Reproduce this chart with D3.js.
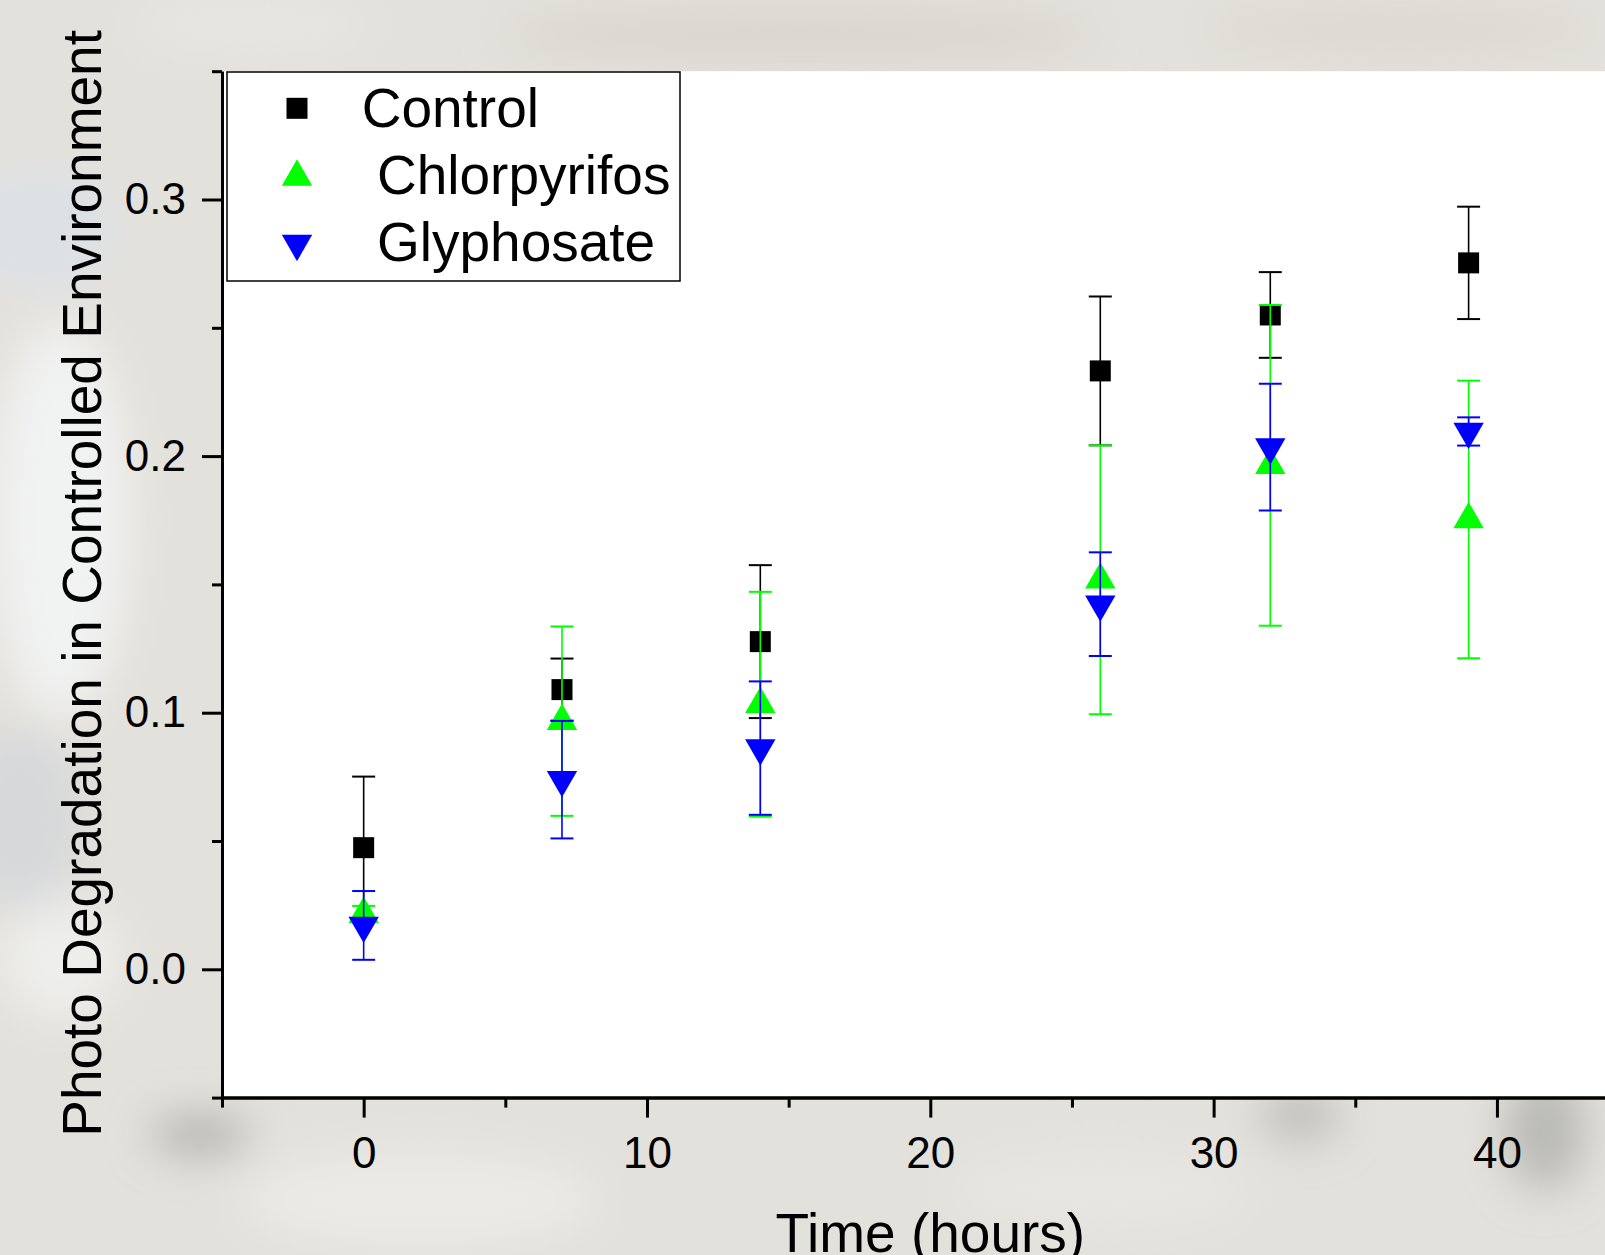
<!DOCTYPE html>
<html>
<head>
<meta charset="utf-8">
<script src="https://cdn.jsdelivr.net/npm/d3@7"></script>
<style>
  html, body { margin: 0; padding: 0; overflow: hidden; }
  svg { display: block; font-family: "Liberation Sans", Arial, sans-serif; }
</style>
</head>
<body>
<svg class="canvas"></svg>
<script>
// Chart data
const hours = [0, 7, 14, 26, 32, 39];
const control = [0.0474, 0.1090, 0.1277, 0.2332, 0.2550, 0.2753];
const controlErr = [0.0277, 0.0121, 0.0298, 0.0290, 0.0167, 0.0219];
const chlorpyrifos = [0.0215, 0.0967, 0.1033, 0.1518, 0.1964, 0.1753];
const chlorpyrifosErr = [0.0032, 0.0369, 0.0438, 0.0524, 0.0625, 0.0541];
const glyphosate = [0.0171, 0.0739, 0.0862, 0.1423, 0.2035, 0.2096];
const glyphosateErr = [0.0134, 0.0229, 0.0260, 0.0202, 0.0247, 0.0055];
const seriesNames = ["Control", " Chlorpyrifos", " Glyphosate"];
const xMajorTicks = [0, 10, 20, 30, 40];
const xMinorTicks = [-5, 5, 15, 25, 35];
const yMajorTicks = [0.0, 0.1, 0.2, 0.3];
const yMinorTicks = [-0.05, 0.05, 0.15, 0.25, 0.35];

// Page size
const wWidth = 1605;
const wHeight = 1255;

// Plot frame
const frame = {left: 222, top: 71.2, bottom: 1097.6, right: 1638.6};

const svg = d3.select(".canvas")
    .attr("width", wWidth)
    .attr("height", wHeight);

// blurry photo background
const defs = svg.append("defs");
defs.append("filter").attr("id", "blur")
    .attr("x", "-50%").attr("y", "-50%").attr("width", "200%").attr("height", "200%")
    .append("feGaussianBlur").attr("stdDeviation", 22);

svg.append("rect")
    .attr("width", wWidth).attr("height", wHeight)
    .attr("fill", "#e3e1db");

const blobs = [
    {x: 40, y: 230, rx: 80, ry: 60, c: "#dde1e6"},
    {x: 60, y: 520, rx: 70, ry: 200, c: "#f1f2f2"},
    {x: 20, y: 820, rx: 60, ry: 90, c: "#d6d8da"},
    {x: 60, y: 960, rx: 60, ry: 60, c: "#eeeeec"},
    {x: 200, y: 1135, rx: 50, ry: 18, c: "#aeada8"},
    {x: 420, y: 1200, rx: 180, ry: 50, c: "#ebeae6"},
    {x: 1300, y: 1115, rx: 40, ry: 25, c: "#bdbcb7"},
    {x: 1545, y: 1130, rx: 40, ry: 60, c: "#b9b9b5"},
    {x: 1100, y: 1190, rx: 150, ry: 40, c: "#e8e6e1"},
    {x: 800, y: 35, rx: 300, ry: 25, c: "#d8d5ce"},
    {x: 1400, y: 30, rx: 200, ry: 25, c: "#dcd9d2"},
    {x: 250, y: 25, rx: 120, ry: 30, c: "#e8e6e1"}
];
svg.append("g").attr("filter", "url(#blur)")
    .selectAll("ellipse")
    .data(blobs)
    .join("ellipse")
    .attr("cx", d => d.x).attr("cy", d => d.y)
    .attr("rx", d => d.rx).attr("ry", d => d.ry)
    .attr("fill", d => d.c);

// Scales
const xScale = d3.scaleLinear().domain([-5, 45]).range([frame.left, frame.right]);
const yScale = d3.scaleLinear().domain([-0.05, 0.35]).range([frame.bottom, frame.top]);

// White plot area
svg.append("rect")
    .attr("x", xScale(-5))
    .attr("y", yScale(0.35))
    .attr("width", xScale(45) - xScale(-5))
    .attr("height", yScale(-0.05) - yScale(0.35))
    .attr("fill", "#ffffff");

// Series
const series = [
    {name: seriesNames[0], vals: control, errs: controlErr, color: "#000000", shape: "square"},
    {name: seriesNames[1], vals: chlorpyrifos, errs: chlorpyrifosErr, color: "#00ff00", shape: "up"},
    {name: seriesNames[2], vals: glyphosate, errs: glyphosateErr, color: "#0000ff", shape: "down"}
];

const symbolFor = shape => shape === "square"
    ? d3.symbol().type(d3.symbolSquare).size(441)()
    : d3.symbol().type(d3.symbolTriangle).size(400)();
const rotFor = shape => shape === "down" ? " rotate(180)" : "";

const capW = 11.5;
series.forEach(s => {
    const pts = hours.map((h, i) => ({x: h, y: s.vals[i], e: s.errs[i]}));
    const g = svg.append("g");

    // error bars
    const bars = g.selectAll("g.err").data(pts).join("g").attr("class", "err")
        .attr("stroke", s.color);
    bars.append("line")
        .attr("x1", d => xScale(d.x)).attr("x2", d => xScale(d.x))
        .attr("y1", d => yScale(d.y + d.e)).attr("y2", d => yScale(d.y - d.e))
        .attr("stroke-width", 1.6);
    bars.append("line")
        .attr("x1", d => xScale(d.x) - capW).attr("x2", d => xScale(d.x) + capW)
        .attr("y1", d => yScale(d.y + d.e)).attr("y2", d => yScale(d.y + d.e))
        .attr("stroke-width", 2);
    bars.append("line")
        .attr("x1", d => xScale(d.x) - capW).attr("x2", d => xScale(d.x) + capW)
        .attr("y1", d => yScale(d.y - d.e)).attr("y2", d => yScale(d.y - d.e))
        .attr("stroke-width", 2);

    // markers
    g.selectAll("path.mark").data(pts).join("path").attr("class", "mark")
        .attr("d", symbolFor(s.shape))
        .attr("transform", d => `translate(${xScale(d.x)},${yScale(d.y)})${rotFor(s.shape)}`)
        .attr("fill", s.color);
});

// Axes
const axisStyle = g => {
    g.selectAll("path.domain").attr("stroke-width", 3);
    g.selectAll(".tick line").attr("stroke-width", 3);
    g.selectAll("text").attr("font-size", 44).attr("font-family", "Liberation Sans, Arial, sans-serif").attr("fill", "#000");
};

svg.append("g")
    .attr("transform", `translate(0, ${frame.bottom})`)
    .call(d3.axisBottom(xScale).tickValues(xMinorTicks).tickSize(10).tickSizeOuter(0).tickFormat(""))
    .call(axisStyle);
svg.append("g")
    .attr("transform", `translate(0, ${frame.bottom})`)
    .call(d3.axisBottom(xScale).tickValues(xMajorTicks).tickSize(20).tickPadding(19).tickSizeOuter(0).tickFormat(d3.format("d")))
    .call(axisStyle);

svg.append("g")
    .attr("transform", `translate(${frame.left}, 0)`)
    .call(d3.axisLeft(yScale).tickValues(yMinorTicks).tickSize(10).tickSizeOuter(0).tickFormat(""))
    .call(axisStyle);
svg.append("g")
    .attr("transform", `translate(${frame.left}, 0)`)
    .call(d3.axisLeft(yScale).tickValues(yMajorTicks).tickSize(20).tickPadding(16).tickSizeOuter(0).tickFormat(d3.format(".1f")))
    .call(axisStyle);

// Axis titles
svg.append("text")
    .attr("transform", `translate(${xScale(20)}, 1252)`)
    .attr("text-anchor", "middle")
    .attr("font-size", 55)
    .text("Time (hours)");
svg.append("text")
    .attr("transform", `translate(101, ${(frame.top + frame.bottom) / 2 - 1}) rotate(-90)`)
    .attr("text-anchor", "middle")
    .attr("font-size", 55)
    .text("Photo Degradation in Controlled Environment");

// Legend
const legend = svg.append("g").attr("transform", "translate(227, 72)");
legend.append("rect")
    .attr("width", 453).attr("height", 209)
    .attr("fill", "#ffffff").attr("stroke", "#000").attr("stroke-width", 1.5);
const legendRows = [36.3, 104.9, 171.6];
const legendBase = [54.7, 122, 188.5];
series.forEach((s, i) => {
    legend.append("path")
        .attr("d", symbolFor(s.shape))
        .attr("transform", `translate(70, ${legendRows[i]})${rotFor(s.shape)}`)
        .attr("fill", s.color);
    legend.append("text")
        .attr("x", 134.7).attr("y", legendBase[i])
        .attr("font-size", 55)
        .style("white-space", "pre")
        .text(s.name);
});
</script>
</body>
</html>
